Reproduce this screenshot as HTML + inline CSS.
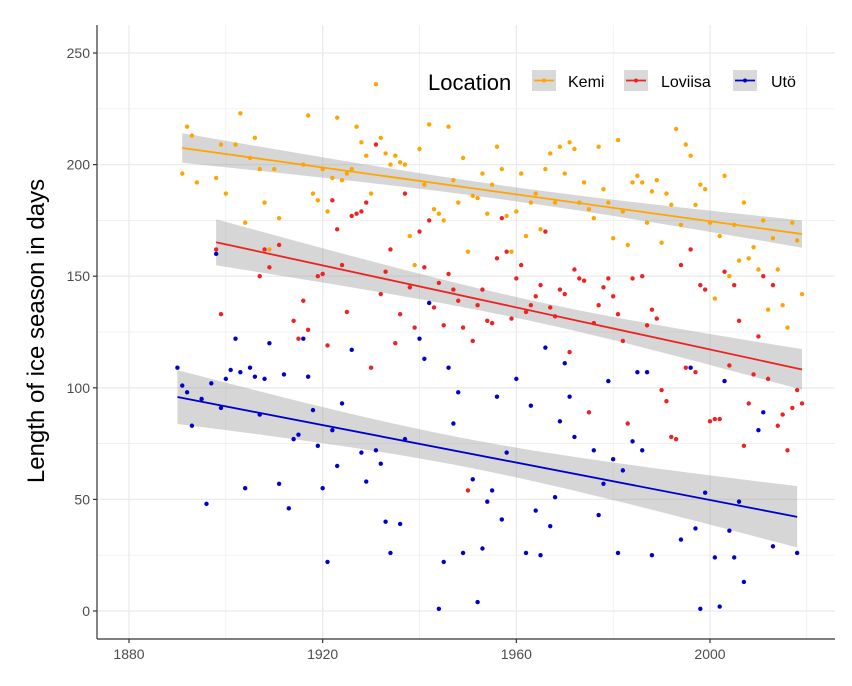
<!DOCTYPE html>
<html><head><meta charset="utf-8"><style>
body{margin:0;background:#fff;}
svg text{font-family:"Liberation Sans",sans-serif;}
</style></head><body>
<svg id="chart" width="852" height="681" xmlns="http://www.w3.org/2000/svg">
<rect width="852" height="681" fill="#fff"/>
<g id="grid"></g><g id="ribbons"></g><g id="points"></g><g id="lines"></g><g id="axes"></g>
<g id="legend">
<text x="428" y="90" font-size="22" fill="#000">Location</text>
</g>
<text transform="translate(44,331) rotate(-90)" text-anchor="middle" font-size="24" fill="#000">Length of ice season in days</text>
</svg>
<script>
const kemiYears=[1891,1892,1893,1894,1898,1899,1900,1902,1903,1904,1905,1906,1907,1908,1909,1910,1911,1916,1917,1918,1919,1920,1921,1922,1923,1924,1925,1926,1927,1928,1929,1930,1931,1932,1933,1934,1935,1936,1937,1938,1939,1940,1941,1942,1943,1944,1945,1946,1947,1948,1949,1950,1951,1952,1953,1954,1955,1956,1957,1958,1959,1960,1961,1962,1963,1964,1965,1966,1967,1968,1969,1970,1971,1972,1973,1974,1975,1976,1977,1978,1979,1980,1981,1982,1983,1984,1985,1986,1987,1988,1989,1990,1991,1992,1993,1994,1995,1996,1997,1998,1999,2000,2001,2002,2003,2004,2005,2006,2007,2008,2009,2010,2011,2012,2013,2014,2015,2016,2017,2018,2019];
const kemiValues=[196,217,213,192,194,209,187,209,223,174,203,212,198,183,162,198,176,200,222,187,184,198,179,194,221,193,196,198,217,210,204,187,236,212,205,200,204,201,200,168,155,207,191,218,180,178,175,217,193,183,203,161,186,185,196,178,191,208,198,177,161,179,196,168,183,187,171,198,205,183,208,196,210,207,183,192,180,176,208,189,183,167,211,179,164,192,195,192,174,188,193,165,187,182,216,173,209,204,182,191,189,174,140,168,195,150,173,157,183,158,163,153,175,135,167,153,137,127,174,166,142];
const loviisaYears=[1898,1899,1907,1908,1909,1911,1914,1915,1916,1917,1919,1920,1921,1922,1923,1924,1925,1926,1927,1928,1929,1930,1931,1932,1933,1934,1935,1936,1937,1938,1939,1940,1941,1942,1943,1944,1945,1946,1947,1948,1949,1950,1951,1952,1953,1954,1955,1956,1957,1958,1959,1960,1961,1962,1963,1964,1965,1966,1967,1968,1969,1970,1971,1972,1973,1974,1975,1976,1977,1978,1979,1980,1981,1982,1983,1984,1986,1987,1988,1989,1990,1991,1992,1993,1994,1995,1996,1997,1998,1999,2000,2001,2002,2003,2004,2005,2006,2007,2008,2009,2010,2011,2012,2013,2014,2015,2016,2017,2018,2019];
const loviisaValues=[162,133,150,162,154,164,130,122,139,126,150,151,119,184,171,155,134,177,178,179,183,109,209,142,152,162,120,133,187,145,127,170,154,175,136,147,128,151,144,139,127,54,121,137,144,130,129,158,176,161,131,149,155,134,137,141,146,170,136,132,144,142,116,153,149,148,89,129,137,145,149,141,133,121,84,149,150,128,135,131,99,94,78,77,155,109,162,107,146,144,85,86,86,152,110,146,130,74,93,106,123,150,104,146,83,88,72,91,99,93];
const utoYears=[1890,1891,1892,1893,1895,1896,1897,1898,1899,1900,1901,1902,1903,1904,1905,1906,1907,1908,1909,1911,1912,1913,1914,1915,1916,1917,1918,1919,1920,1921,1922,1923,1924,1926,1928,1929,1931,1932,1933,1934,1936,1937,1940,1941,1942,1944,1945,1946,1947,1948,1949,1951,1952,1953,1954,1955,1956,1957,1958,1960,1962,1963,1964,1965,1966,1967,1968,1969,1970,1971,1972,1976,1977,1978,1979,1980,1981,1982,1984,1985,1986,1987,1988,1994,1996,1997,1998,1999,2001,2002,2003,2004,2005,2006,2007,2010,2011,2013,2018];
const utoValues=[109,101,98,83,95,48,102,160,91,104,108,122,107,55,109,105,88,104,120,57,106,46,77,79,122,105,90,74,55,22,81,65,93,117,71,58,72,66,40,26,39,77,122,113,138,1,22,109,84,98,26,59,4,28,49,54,96,41,71,104,26,92,45,25,118,38,51,85,111,96,78,72,43,57,103,68,26,63,76,107,72,107,25,32,109,37,1,53,24,2,103,36,24,49,13,81,89,29,26];
const xTicks=[1880,1920,1960,2000];
const yTicks=[0,50,100,150,200,250];

const L=97,R=835,T=25,B=639;
const x=v=>129+(v-1880)*(710-129)/120;
const y=v=>611-v*(611-53)/250;
const NS='http://www.w3.org/2000/svg';
function mk(tag,attrs,parent){const e=document.createElementNS(NS,tag);for(const k in attrs)e.setAttribute(k,attrs[k]);parent.appendChild(e);return e;}
const grid=document.getElementById('grid'),axes=document.getElementById('axes');
mk('rect',{x:L,y:T,width:R-L,height:B-T,fill:'#fff'},grid);
for(let v=1880;v<=2020;v+=20){const l=mk('line',{x1:x(v),x2:x(v),y1:T,y2:B,stroke:'#ebebeb','stroke-width':v%40===0?1.3:0.7},grid);

}
for(let v=0;v<=250;v+=25){const l=mk('line',{x1:L,x2:R,y1:y(v),y2:y(v),stroke:'#ebebeb','stroke-width':v%50===0?1.3:0.7},grid);

}
const ax=mk('line',{x1:L,x2:L,y1:T,y2:B,stroke:'#333','stroke-width':1.2},axes);


const bx=mk('line',{x1:L,x2:R,y1:B,y2:B,stroke:'#333','stroke-width':1.2},axes);


xTicks.forEach(v=>{mk('line',{x1:x(v),x2:x(v),y1:B,y2:B+4,stroke:'#333','stroke-width':1.2},axes);
const t=mk('text',{x:x(v),y:B+20,'text-anchor':'middle','font-size':14,fill:'#4d4d4d'},axes);t.textContent=v;

});
yTicks.forEach(v=>{mk('line',{x1:L-4,x2:L,y1:y(v),y2:y(v),stroke:'#333','stroke-width':1.2},axes);
const t=mk('text',{x:L-7,y:y(v)+5,'text-anchor':'end','font-size':14,fill:'#4d4d4d'},axes);t.textContent=v;

});

const series=[['kemi',kemiYears,kemiValues,'#FFA500'],['loviisa',loviisaYears,loviisaValues,'#EE2222'],['uto',utoYears,utoValues,'#0000CC']];
const rib=document.getElementById('ribbons'),pts=document.getElementById('points'),lns=document.getElementById('lines');
series.forEach(([name,xs,ys,col])=>{
 xs.forEach((xv,i)=>{const c=mk('circle',{cx:x(xv),cy:y(ys[i]),r:2.2,fill:col},pts);
 
 });
 const n=xs.length,mx=xs.reduce((a,b)=>a+b)/n,my=ys.reduce((a,b)=>a+b)/n;
 let sxx=0,sxy=0;xs.forEach((xv,i)=>{sxx+=(xv-mx)**2;sxy+=(xv-mx)*(ys[i]-my);});
 const b=sxy/sxx,a=my-b*mx;let sse=0;xs.forEach((xv,i)=>{sse+=(ys[i]-a-b*xv)**2;});
 const s=Math.sqrt(sse/(n-2)),t=1.98;
 const x0=Math.min(...xs),x1=Math.max(...xs);const up=[],lo=[];
 for(let k=0;k<=40;k++){const xv=x0+(x1-x0)*k/40,f=a+b*xv,h=t*s*Math.sqrt(1/n+(xv-mx)**2/sxx);
  up.push(x(xv)+','+y(f+h));lo.unshift(x(xv)+','+y(f-h));}
 const p=mk('polygon',{points:up.concat(lo).join(' '),fill:'#999','fill-opacity':0.4},rib);
 
 
 const l=mk('line',{x1:x(x0),y1:y(a+b*x0),x2:x(x1),y2:y(a+b*x1),stroke:col,'stroke-width':1.8},lns);
 
 
});
const leg=document.getElementById('legend');
[['Kemi',532,568,'#FFA500'],['Loviisa',624,661,'#EE2222'],['Utö',733,771,'#0000CC']].forEach(([lab,bx0,tx,col])=>{
 const g=mk('g',{},leg);
 
 
 mk('rect',{x:bx0,y:70,width:24,height:21,fill:'#d9d9d9'},g);
 mk('line',{x1:bx0+2,x2:bx0+22,y1:80.5,y2:80.5,stroke:col,'stroke-width':1.8},g);
 mk('circle',{cx:bx0+12,cy:80.5,r:2,fill:col},g);
 const t=mk('text',{x:tx,y:87,'font-size':16,fill:'#000'},g);t.textContent=lab;
});
</script>
</body></html>
